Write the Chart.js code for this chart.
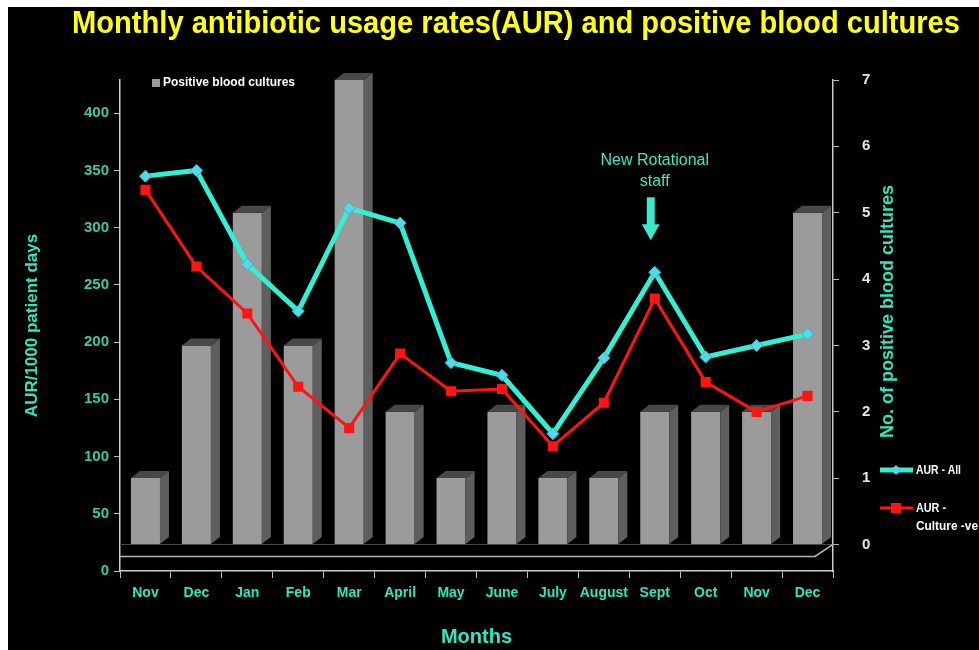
<!DOCTYPE html>
<html>
<head>
<meta charset="utf-8">
<title>Monthly antibiotic usage rates(AUR) and positive blood cultures</title>
<script src="https://cdn.jsdelivr.net/npm/chart.js@4.4.1/dist/chart.umd.min.js"></script>
<style>
  html, body { margin: 0; background: #fff; }
  #wrap { position: absolute; left: 8px; top: 7px; width: 971px; height: 643px; background: #000; }
</style>
</head>
<body>
<div id="wrap"><canvas id="aur-chart"></canvas></div>
<script>
// Data
const months = ['Nov', 'Dec', 'Jan', 'Feb', 'Mar', 'April', 'May', 'June', 'July', 'August', 'Sept', 'Oct', 'Nov', 'Dec'];
const aurAll = [345, 350, 268, 227, 317, 304, 182, 171, 120, 186, 261, 187, 197, 207];
const aurCultureNeg = [333, 266, 225, 161, 125, 190, 157, 159, 109, 147, 238, 165, 139, 153];
const positiveCultures = [1, 3, 5, 3, 7, 2, 1, 2, 1, 1, 2, 2, 2, 5];
const aurTicks = [0, 50, 100, 150, 200, 250, 300, 350, 400];
const cultureTicks = [0, 1, 2, 3, 4, 5, 6, 7];
const noteMonth = 10; // "New Rotational staff" -> Sept

const sans = "'Liberation Sans', Arial, sans-serif";
const cyan = '#33f0d2';
const red = '#ff1414';
const teal = '#2fe6c0';
Chart.defaults.font.family = sans;

// text squeezed to a given width (the original uses a narrow font)
function squeezeText(ctx, text, x, y, maxW) {
    const w = ctx.measureText(text).width;
    const sx = Math.min(1, maxW / w);
    ctx.save();
    ctx.translate(x, y);
    ctx.scale(sx, 1);
    ctx.fillText(text, 0, 0);
    ctx.restore();
}

// Title, legends, 3D bar faces, annotation
const decor = {
    id: 'decor',
    beforeDatasetsDraw(chart) {
        const { ctx, chartArea: a } = chart;
        const y0 = chart.scales.y2.getPixelForValue(0);
        ctx.save();
        ctx.strokeStyle = '#4a4a4a';
        ctx.lineWidth = 1;
        ctx.beginPath();
        ctx.moveTo(a.left, y0); ctx.lineTo(a.right, y0);
        ctx.stroke();
        ctx.strokeStyle = '#b8b8b8';
        ctx.lineWidth = 1.5;
        ctx.beginPath();
        ctx.moveTo(a.left, y0 + 12); ctx.lineTo(a.right - 18, y0 + 12); ctx.lineTo(a.right, y0);
        ctx.stroke();
        ctx.restore();
    },
    afterDatasetDraw(chart, args) {
        if (args.index !== 0) return;
        const ctx = chart.ctx;
        const dx = 9, dy = 7;
        ctx.save();
        args.meta.data.forEach(bar => {
            const { x, y, base, width } = bar.getProps(['x', 'y', 'base', 'width'], true);
            const l = x - width / 2, r = x + width / 2;
            ctx.fillStyle = '#5e5e5e';
            ctx.beginPath();
            ctx.moveTo(r, y); ctx.lineTo(r + dx, y - dy); ctx.lineTo(r + dx, base - dy); ctx.lineTo(r, base);
            ctx.closePath(); ctx.fill();
            ctx.fillStyle = '#484848';
            ctx.beginPath();
            ctx.moveTo(l, y); ctx.lineTo(l + dx, y - dy); ctx.lineTo(r + dx, y - dy); ctx.lineTo(r, y);
            ctx.closePath(); ctx.fill();
        });
        ctx.restore();
    },
    afterDraw(chart) {
        const { ctx, chartArea: a, scales } = chart;
        ctx.save();
        // title
        ctx.fillStyle = '#ffff1a';
        ctx.font = 'bold 31px ' + sans;
        ctx.textAlign = 'left';
        ctx.textBaseline = 'middle';
        squeezeText(ctx, 'Monthly antibiotic usage rates(AUR) and positive blood cultures', 64, 17, 888);

        // right axis title, read bottom to top
        ctx.save();
        ctx.translate(a.right + 55, (a.top + a.bottom) / 2 - 14);
        ctx.rotate(-Math.PI / 2);
        ctx.textAlign = 'center';
        ctx.fillStyle = teal;
        ctx.font = 'bold 18px ' + sans;
        ctx.fillText('No. of positive blood cultures', 0, 0);
        ctx.restore();

        // legend for bars (top left)
        ctx.fillStyle = '#9b9b9b';
        ctx.fillRect(a.left + 32, a.top - 1, 8, 8);
        ctx.fillStyle = '#ffffff';
        ctx.font = 'bold 12px ' + sans;
        squeezeText(ctx, 'Positive blood cultures', a.left + 43, a.top + 3, 135);

        // legend for lines (right)
        const lx = a.right + 47;
        let ly = a.bottom - 101;
        ctx.strokeStyle = cyan; ctx.lineWidth = 5;
        ctx.beginPath(); ctx.moveTo(lx, ly); ctx.lineTo(lx + 33, ly); ctx.stroke();
        ctx.fillStyle = '#55d8e8';
        ctx.beginPath();
        ctx.moveTo(lx + 16, ly - 5); ctx.lineTo(lx + 21, ly); ctx.lineTo(lx + 16, ly + 5); ctx.lineTo(lx + 11, ly);
        ctx.closePath(); ctx.fill();
        ctx.fillStyle = '#ffffff';
        ctx.font = 'bold 13px ' + sans;
        squeezeText(ctx, 'AUR - All', lx + 36, ly, 45);

        ly = a.bottom - 63;
        ctx.strokeStyle = red; ctx.lineWidth = 3;
        ctx.beginPath(); ctx.moveTo(lx, ly); ctx.lineTo(lx + 33, ly); ctx.stroke();
        ctx.fillStyle = red;
        ctx.fillRect(lx + 11, ly - 5, 10, 10);
        ctx.fillStyle = '#ffffff';
        squeezeText(ctx, 'AUR -', lx + 36, ly, 30);
        squeezeText(ctx, 'Culture -ve', lx + 36, ly + 18, 62);

        // annotation over Sept
        const nx = scales.x.getPixelForValue(noteMonth);
        const py = scales.y.getPixelForValue(aurAll[noteMonth]);
        ctx.fillStyle = '#3ce8c8';
        ctx.textAlign = 'center';
        ctx.font = '16px ' + sans;
        ctx.fillText('New Rotational', nx, py - 112);
        ctx.fillText('staff', nx, py - 91);
        ctx.fillRect(nx - 8, py - 75, 8, 30);
        ctx.beginPath();
        ctx.moveTo(nx - 13, py - 48); ctx.lineTo(nx + 5, py - 48); ctx.lineTo(nx - 4, py - 32);
        ctx.closePath(); ctx.fill();
        ctx.restore();
    }
};

const ctx = document.getElementById('aur-chart').getContext('2d');
new Chart(ctx, {
    data: {
        labels: months,
        datasets: [{
            type: 'bar',
            label: 'Positive blood cultures',
            data: positiveCultures,
            yAxisID: 'y2',
            backgroundColor: '#9b9b9b',
            barPercentage: 0.57,
            categoryPercentage: 1,
            order: 3
        }, {
            type: 'line',
            label: 'AUR - All',
            data: aurAll,
            yAxisID: 'y',
            borderColor: cyan,
            borderWidth: 5,
            pointStyle: 'rectRot',
            pointRadius: 6,
            pointBackgroundColor: '#55d8e8',
            pointBorderColor: '#2ab8c8',
            pointBorderWidth: 1,
            tension: 0,
            order: 1
        }, {
            type: 'line',
            label: 'AUR - Culture -ve',
            data: aurCultureNeg,
            yAxisID: 'y',
            borderColor: red,
            borderWidth: 3,
            pointStyle: 'rect',
            pointRadius: 5,
            pointBackgroundColor: red,
            pointBorderColor: red,
            tension: 0,
            order: 2
        }]
    },
    options: {
        responsive: true,
        maintainAspectRatio: false,
        animation: false,
        layout: { padding: { top: 73 } },
        plugins: {
            legend: { display: false },
            title: { display: false },
            tooltip: { enabled: false }
        },
        scales: {
            x: {
                offset: true,
                grid: { drawOnChartArea: false, offset: true, tickLength: 7, color: '#bbbbbb' },
                border: { color: '#cccccc', width: 1.5 },
                ticks: { color: teal, font: { size: 14, weight: 'bold' }, maxRotation: 0, autoSkip: false, padding: 7 },
                title: { display: true, text: 'Months', color: teal, font: { size: 20, weight: 'bold' }, padding: { bottom: 1 } },
                afterFit: s => { s.height = 79; }
            },
            y: {
                position: 'left',
                min: 0,
                max: 429,
                grid: { drawOnChartArea: false, tickLength: 6, color: '#bbbbbb' },
                border: { color: '#cccccc', width: 1.5 },
                ticks: { color: '#3cc8a8', font: { size: 15, weight: 'bold' }, padding: 5 },
                afterBuildTicks: s => { s.ticks = aurTicks.map(v => ({ value: v })); },
                title: { display: true, text: 'AUR/1000 patient days', color: teal, font: { size: 17, weight: 'bold' }, padding: { top: 14 } },
                afterFit: s => { s.width = 112; }
            },
            y2: {
                position: 'right',
                min: -0.4,
                max: 7,
                grid: { drawOnChartArea: false, tickLength: 6, color: '#bbbbbb' },
                border: { color: '#cccccc', width: 1.5 },
                ticks: { color: '#e6e6e6', font: { size: 15, weight: 'bold' }, padding: 23 },
                afterBuildTicks: s => { s.ticks = cultureTicks.map(v => ({ value: v })); },
                title: { display: false },
                afterFit: s => { s.width = 146; }
            }
        }
    },
    plugins: [decor]
});
</script>
</body>
</html>
